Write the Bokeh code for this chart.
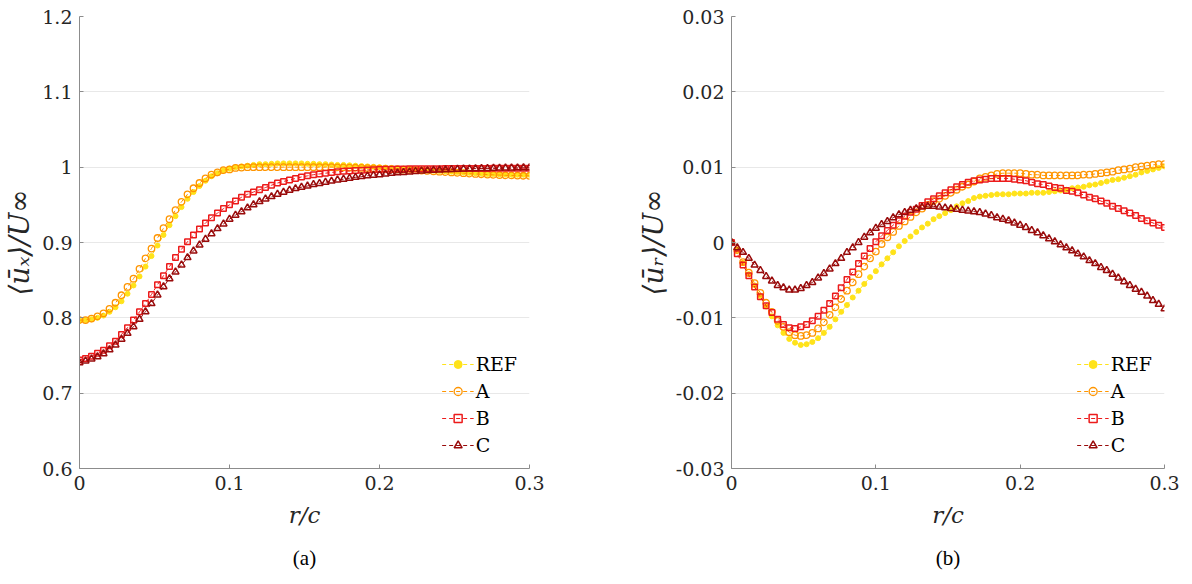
from bokeh.plotting import figure
from bokeh.models import Range1d, FixedTicker, Legend, LegendItem, Title, ColumnDataSource
from bokeh.layouts import row
from bokeh.embed import file_html
from bokeh.resources import INLINE

# radial positions r/c (sample grid)
r = [round(0.004 * i, 3) for i in range(76)]

series_names = ["REF", "A", "B", "C"]

# ---- panel (a): <u_x>/U_inf ----
ux_ref = [0.796, 0.797, 0.798, 0.800, 0.803, 0.808, 0.814, 0.822, 0.832, 0.843,
          0.855, 0.868, 0.882, 0.896, 0.910, 0.923, 0.935, 0.947, 0.958, 0.967,
          0.975, 0.982, 0.988, 0.992, 0.996, 0.998, 1.000, 1.001, 1.002, 1.003,
          1.004, 1.004, 1.0045, 1.005, 1.005, 1.005, 1.005, 1.005, 1.0045, 1.0045,
          1.004, 1.004, 1.0035, 1.003, 1.003, 1.0025, 1.002, 1.0015, 1.001, 1.0005,
          1.000, 0.9995, 0.999, 0.9985, 0.998, 0.9975, 0.997, 0.9965, 0.996, 0.9955,
          0.995, 0.9945, 0.994, 0.9935, 0.993, 0.9925, 0.992, 0.9915, 0.991, 0.9908,
          0.9905, 0.9903, 0.990, 0.990, 0.990, 0.990]
ux_a = [0.797, 0.797, 0.799, 0.802, 0.806, 0.812, 0.820, 0.830, 0.841, 0.852,
        0.865, 0.879, 0.892, 0.906, 0.919, 0.931, 0.943, 0.954, 0.964, 0.972,
        0.979, 0.985, 0.990, 0.993, 0.996, 0.997, 0.999, 0.9995, 1.000, 1.000,
        1.000, 1.000, 1.000, 1.000, 1.000, 1.000, 1.000, 1.000, 1.000, 1.000,
        1.000, 1.000, 1.000, 0.9998, 0.9996, 0.9994, 0.9992, 0.999, 0.9988, 0.9985,
        0.998, 0.9977, 0.9973, 0.997, 0.9967, 0.9963, 0.996, 0.9955, 0.995, 0.9945,
        0.994, 0.9935, 0.993, 0.9925, 0.992, 0.9915, 0.991, 0.9906, 0.9902, 0.9898,
        0.9895, 0.9892, 0.989, 0.9888, 0.9886, 0.9885]
ux_b = [0.744, 0.746, 0.749, 0.753, 0.757, 0.763, 0.769, 0.778, 0.787, 0.797,
        0.808, 0.819, 0.831, 0.844, 0.856, 0.868, 0.880, 0.891, 0.901, 0.910,
        0.918, 0.926, 0.933, 0.939, 0.945, 0.950, 0.955, 0.960, 0.964, 0.967,
        0.970, 0.973, 0.976, 0.979, 0.981, 0.983, 0.985, 0.987,
        0.9885, 0.990, 0.991, 0.992, 0.993, 0.9938, 0.9945, 0.995, 0.9955, 0.996,
        0.9963, 0.9966, 0.9969, 0.9971, 0.9973, 0.9975, 0.9977, 0.9978, 0.9979, 0.998,
        0.998, 0.998, 0.998, 0.9981, 0.9981, 0.9982, 0.9982, 0.9982, 0.9983, 0.9983,
        0.9983, 0.9984, 0.9984, 0.9984, 0.9985, 0.9985, 0.9985, 0.9985]
ux_c = [0.7405, 0.7428, 0.7454, 0.7485, 0.7525, 0.7578, 0.764, 0.7716, 0.7795, 0.7883,
        0.7981, 0.8082, 0.8189, 0.8304, 0.8414, 0.852, 0.861, 0.8703, 0.880, 0.8889,
        0.8968, 0.9044, 0.9118, 0.9185, 0.9247, 0.931, 0.9363, 0.941, 0.946, 0.9503,
        0.9543, 0.9579, 0.961, 0.9641, 0.9668, 0.9694, 0.9716, 0.9734,
        0.975, 0.977, 0.9785, 0.980, 0.9815, 0.983, 0.984, 0.9853, 0.9865, 0.9875,
        0.9885, 0.9893, 0.990, 0.991, 0.9918, 0.9925, 0.993, 0.9937, 0.9943, 0.995,
        0.9955, 0.996, 0.9963, 0.9967, 0.997, 0.9973, 0.9976, 0.9978, 0.998, 0.9982,
        0.9984, 0.9986, 0.9988, 0.9989, 0.999, 0.9991, 0.9992, 0.9993]

# ---- panel (b): <u_r>/U_inf ----
ur_ref = [0, -0.0010, -0.0027, -0.0042, -0.0057, -0.0071, -0.0085, -0.0098, -0.0110, -0.0120,
          -0.0128, -0.0133, -0.0136, -0.0135, -0.0132, -0.0127, -0.0120, -0.0112, -0.0102, -0.0092,
          -0.0083, -0.0073, -0.0064, -0.0055, -0.0046, -0.0038, -0.0029, -0.0021, -0.0013, -0.0005,
          0.0002, 0.0008, 0.0014, 0.0020, 0.0025, 0.0031, 0.0035,
          0.0039, 0.0043, 0.0048, 0.0052, 0.0055, 0.0059, 0.0061, 0.0062, 0.0063, 0.0064,
          0.0064, 0.0064, 0.0065, 0.0065, 0.0065, 0.0066, 0.0066, 0.0066, 0.0067, 0.0068,
          0.0069, 0.0070, 0.0072, 0.0073, 0.0074, 0.0076, 0.0077, 0.0079, 0.0081, 0.0083,
          0.0084, 0.0086, 0.0088, 0.0090, 0.0093, 0.0095, 0.0097, 0.0099, 0.0101]
ur_a = [0, -0.0010, -0.0026, -0.0040, -0.0054, -0.0067, -0.0080, -0.0092, -0.0104, -0.0112,
        -0.0119, -0.0123, -0.0124, -0.0123, -0.0120, -0.0114, -0.0106, -0.0096, -0.0086, -0.0075,
        -0.0064, -0.0053, -0.0042, -0.0032, -0.0021, -0.0012, -0.0002, 0.0007, 0.0014, 0.0022,
        0.0028, 0.0034, 0.0040, 0.0045, 0.0050, 0.0055, 0.0058,
        0.0062, 0.0066, 0.0070, 0.0074, 0.0077, 0.0081, 0.0085, 0.0087, 0.0089, 0.0091,
        0.0092, 0.0092, 0.0092, 0.0092, 0.0091, 0.0090, 0.0090, 0.0089, 0.0089, 0.0089,
        0.0089, 0.0089, 0.0089, 0.0089, 0.0090, 0.0090, 0.0091, 0.0092, 0.0093, 0.0094,
        0.0096, 0.0097, 0.0098, 0.0100, 0.0101, 0.0102, 0.0103, 0.0104, 0.0104]
ur_b = [0, -0.0015, -0.0030, -0.0044, -0.0059, -0.0072, -0.0084, -0.0093, -0.0102, -0.0109,
        -0.0113, -0.0114, -0.0112, -0.0109, -0.0104, -0.0098, -0.0090, -0.0081, -0.0071, -0.0060,
        -0.0049, -0.0039, -0.0028, -0.0018, -0.0008, 0.0001, 0.0009, 0.0016, 0.0023, 0.0029,
        0.0035, 0.0040, 0.0044, 0.0049, 0.0054, 0.0058,
        0.0062, 0.0066, 0.0070, 0.0074, 0.0077, 0.0080, 0.0082, 0.0083, 0.0084, 0.0085,
        0.0085, 0.0085, 0.0085, 0.0084, 0.0083, 0.0082, 0.0080, 0.0078, 0.0077, 0.0075,
        0.0073, 0.0072, 0.0069, 0.0068, 0.0066, 0.0063, 0.0060, 0.0058, 0.0055, 0.0052,
        0.0048, 0.0045, 0.0042, 0.0039, 0.0036, 0.0032, 0.0029, 0.0026, 0.0023, 0.0020]
ur_c = [0, -0.0007, -0.0013, -0.0021, -0.0030, -0.0037, -0.0045, -0.0051, -0.0057, -0.0060,
        -0.0063, -0.0063, -0.0061, -0.0057, -0.0053, -0.0047, -0.0041, -0.0035, -0.0028, -0.0021,
        -0.0013, -0.0007, 0.0000, 0.0007, 0.0013, 0.0019, 0.0024, 0.0028, 0.0033, 0.0037,
        0.0040, 0.0043, 0.0045, 0.0047, 0.0048, 0.0048,
        0.0047, 0.0046, 0.0045, 0.0044, 0.0043, 0.0042, 0.0041, 0.0040, 0.0038, 0.0036,
        0.0033, 0.0031, 0.0029, 0.0026, 0.0023, 0.0020, 0.0016, 0.0013, 0.0009, 0.0005,
        0.0001, -0.0003, -0.0007, -0.0011, -0.0015, -0.0019, -0.0024, -0.0028, -0.0033, -0.0037,
        -0.0042, -0.0047, -0.0052, -0.0057, -0.0062, -0.0066, -0.0071, -0.0077, -0.0082, -0.0088]

x_ticks = [0, 0.1, 0.2, 0.3]
x_tick_labels = ["0", "0.1", "0.2", "0.3"]
ux_ticks = [0.6, 0.7, 0.8, 0.9, 1.0, 1.1, 1.2]
ux_tick_labels = ["0.6", "0.7", "0.8", "0.9", "1", "1.1", "1.2"]
ur_ticks = [-0.03, -0.02, -0.01, 0.0, 0.01, 0.02, 0.03]
ur_tick_labels = ["-0.03", "-0.02", "-0.01", "0", "0.01", "0.02", "0.03"]

colors = ["#FFE31A", "#FF9500", "#EC1B1B", "#990B0B"]
SERIF = "DejaVu Serif"
F_TAG = "Times New Roman"
TXT = "#262626"


def make_panel(ys_list, yr, yticks, ylabels, ylabel, tag, mb_left, mb_right):
    p = figure(width=596, height=584, output_backend="svg", toolbar_location=None,
               x_range=Range1d(0, 0.3), y_range=Range1d(*yr),
               min_border_left=mb_left, min_border_right=mb_right,
               min_border_top=16, min_border_bottom=116)
    p.outline_line_color = None
    p.background_fill_color = "white"
    p.border_fill_color = "white"
    p.xgrid.grid_line_color = None
    p.ygrid.grid_line_color = "#e8e8e8"
    p.ygrid.grid_line_width = 1

    p.xaxis.ticker = FixedTicker(ticks=x_ticks)
    p.xaxis.major_label_overrides = {t: s for t, s in zip(x_ticks, x_tick_labels)}
    p.yaxis.ticker = FixedTicker(ticks=yticks)
    p.yaxis.major_label_overrides = {t: s for t, s in zip(yticks, ylabels)}
    for ax in (p.xaxis[0], p.yaxis[0]):
        ax.axis_line_color = "#8c8c8c"
        ax.major_tick_line_color = "#8c8c8c"
        ax.major_tick_in = 4
        ax.major_tick_out = 0
        ax.minor_tick_line_color = None
        ax.major_label_text_font = SERIF
        ax.major_label_text_font_size = "19px"
        ax.major_label_text_color = TXT
        ax.axis_label_text_font = SERIF
        ax.axis_label_text_font_style = "italic"
        ax.axis_label_text_color = TXT
    p.xaxis.axis_label_text_font_size = "23px"
    p.yaxis.axis_label_text_font_size = "28px"
    p.xaxis.major_label_standoff = 7
    p.yaxis.major_label_standoff = 7
    p.xaxis.axis_label = "r/c"
    p.xaxis.axis_label_standoff = 9
    p.yaxis.axis_label = ylabel
    p.yaxis.axis_label_standoff = 3

    items = []
    for name, ys, col in zip(series_names, ys_list, colors):
        src = ColumnDataSource(dict(x=r, y=ys))
        ln = p.line("x", "y", source=src, line_color=col, line_width=1, line_dash="4 3")
        if name == "REF":
            sc = p.scatter("x", "y", source=src, marker="circle", size=5,
                           fill_color=col, line_color=col, line_width=1)
        elif name == "A":
            sc = p.scatter("x", "y", source=src, marker="circle", size=6.5,
                           fill_alpha=0, line_color=col, line_width=1.3)
        elif name == "B":
            sc = p.scatter("x", "y", source=src, marker="square", size=5.5,
                           fill_alpha=0, line_color=col, line_width=1.5)
        else:
            sc = p.scatter("x", "y", source=src, marker="triangle", size=7,
                           fill_alpha=0, line_color=col, line_width=1.5)
        items.append(LegendItem(label=name, renderers=[ln, sc]))

    legend = Legend(items=items, location="bottom_right",
                    label_text_font=SERIF, label_text_font_size="19px",
                    label_text_color="black",
                    glyph_width=32, glyph_height=20, label_height=20,
                    label_standoff=2, spacing=5, padding=0, margin=12,
                    background_fill_alpha=0, border_line_alpha=0)
    p.add_layout(legend)

    t = Title(text=tag, align="center", text_font=F_TAG, text_font_size="21px",
              text_font_style="normal", text_color="black", standoff=26)
    p.add_layout(t, "below")
    return p


p1 = make_panel([ux_ref, ux_a, ux_b, ux_c], (0.6, 1.2), ux_ticks, ux_tick_labels,
                "⟨ūₓ⟩/U∞", "(a)", 78, 67)
p2 = make_panel([ur_ref, ur_a, ur_b, ur_c], (-0.03, 0.03), ur_ticks, ur_tick_labels,
                "⟨ūᵣ⟩/U∞", "(b)", 135, 28)

layout = row(p1, p2)
open("out.html", "w").write(file_html(layout, INLINE))
